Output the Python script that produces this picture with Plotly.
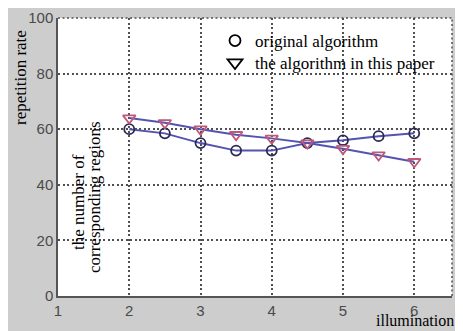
import plotly.graph_objects as go

x_vals = [2, 2.5, 3, 3.5, 4, 4.5, 5, 5.5, 6]
original = [60, 58.5, 55, 52.3, 52.3, 55, 56, 57.5, 58.5]
proposed = [64, 62.3, 60, 58, 56.7, 55, 53, 50.7, 48.3]
x_ticks = [1, 2, 3, 4, 5, 6]
y_ticks = [0, 20, 40, 60, 80, 100]

# the page body has an 8px margin; figure coords = page coords - 8
OFF = 8
W, H = 455, 323
L, R, T, B = 50, 11, 10, 35
pw, ph = W - L - R, H - T - B

def px_x(p):
    return (p - OFF - L) / pw

def px_y(p):
    return (H - B - (p - OFF)) / ph

serif = "Liberation Serif, Times New Roman, serif"
sans = "Liberation Sans, Arial, sans-serif"
line_col = "#5454b0"
grid_col = "#505050"

fig = go.Figure()
fig.add_trace(go.Scatter(
    x=x_vals, y=original, mode="lines+markers", showlegend=False,
    line=dict(color=line_col, width=2),
    marker=dict(symbol="circle-open", size=10, color="#2a2a55", line=dict(width=1.8)),
))
fig.add_trace(go.Scatter(
    x=x_vals, y=proposed, mode="lines+markers", showlegend=False,
    line=dict(color=line_col, width=2),
    marker=dict(symbol="triangle-down-open", size=11, color="#c05878", line=dict(width=1.8)),
))
fig.add_trace(go.Scatter(
    x=[None], y=[None], mode="markers", name="original algorithm", legend="legend",
    marker=dict(symbol="circle-open", size=11, color="black", line=dict(width=1.8)),
))
fig.add_trace(go.Scatter(
    x=[None], y=[None], mode="markers", name="the algorithm in this paper", legend="legend2",
    marker=dict(symbol="triangle-down-open", size=13, color="black", line=dict(width=1.8)),
))

shapes = [
    dict(type="line", xref="paper", yref="paper", x0=0, x1=1, y0=1, y1=1,
         line=dict(color=grid_col, width=1.5, dash="2px,2.5px")),
    dict(type="line", xref="paper", yref="paper", x0=1, x1=1, y0=0, y1=1,
         line=dict(color=grid_col, width=1.5, dash="2px,2.5px")),
]

annotations = [
    dict(text="repetition rate", xref="paper", yref="paper",
         x=px_x(20), y=px_y(78), xanchor="center", yanchor="middle",
         textangle=-90, showarrow=False,
         font=dict(family=serif, size=17, color="black")),
    dict(text="the number of", xref="paper", yref="paper",
         x=px_x(78), y=px_y(202), xanchor="center", yanchor="middle",
         textangle=-90, showarrow=False,
         font=dict(family=serif, size=17, color="black")),
    dict(text="corresponding regions", xref="paper", yref="paper",
         x=px_x(94), y=px_y(197), xanchor="center", yanchor="middle",
         textangle=-90, showarrow=False,
         font=dict(family=serif, size=17, color="black")),
    dict(text="illumination", xref="paper", yref="paper",
         x=px_x(374), y=px_y(321), xanchor="left", yanchor="middle", showarrow=False,
         font=dict(family=serif, size=16, color="black")),
]

leg_common = dict(xanchor="left", yanchor="middle", bgcolor="rgba(0,0,0,0)",
                  font=dict(family=serif, size=17, color="black"), itemwidth=30)

fig.update_layout(
    width=W, height=H,
    margin=dict(l=L, r=R, t=T, b=B),
    paper_bgcolor="#cdcdcd", plot_bgcolor="white",
    shapes=shapes, annotations=annotations,
    legend=dict(x=px_x(215), y=px_y(41), **leg_common),
    legend2=dict(x=px_x(215), y=px_y(63), **leg_common),
    xaxis=dict(range=[1, 6.53], tickvals=x_ticks, showgrid=True,
               gridcolor=grid_col, griddash="2px,2.5px", gridwidth=1.5,
               showline=True, linecolor="#555555", linewidth=1.5,
               ticks="", zeroline=False, automargin=False,
               tickfont=dict(family=sans, size=15, color="#4a4a4a")),
    yaxis=dict(range=[0, 100], tickvals=y_ticks, showgrid=True,
               gridcolor=grid_col, griddash="2px,2.5px", gridwidth=1.5,
               showline=True, linecolor="#555555", linewidth=1.5,
               ticks="", zeroline=False, automargin=False,
               tickfont=dict(family=sans, size=15, color="#4a4a4a")),
)

fig.write_html("out.html")
